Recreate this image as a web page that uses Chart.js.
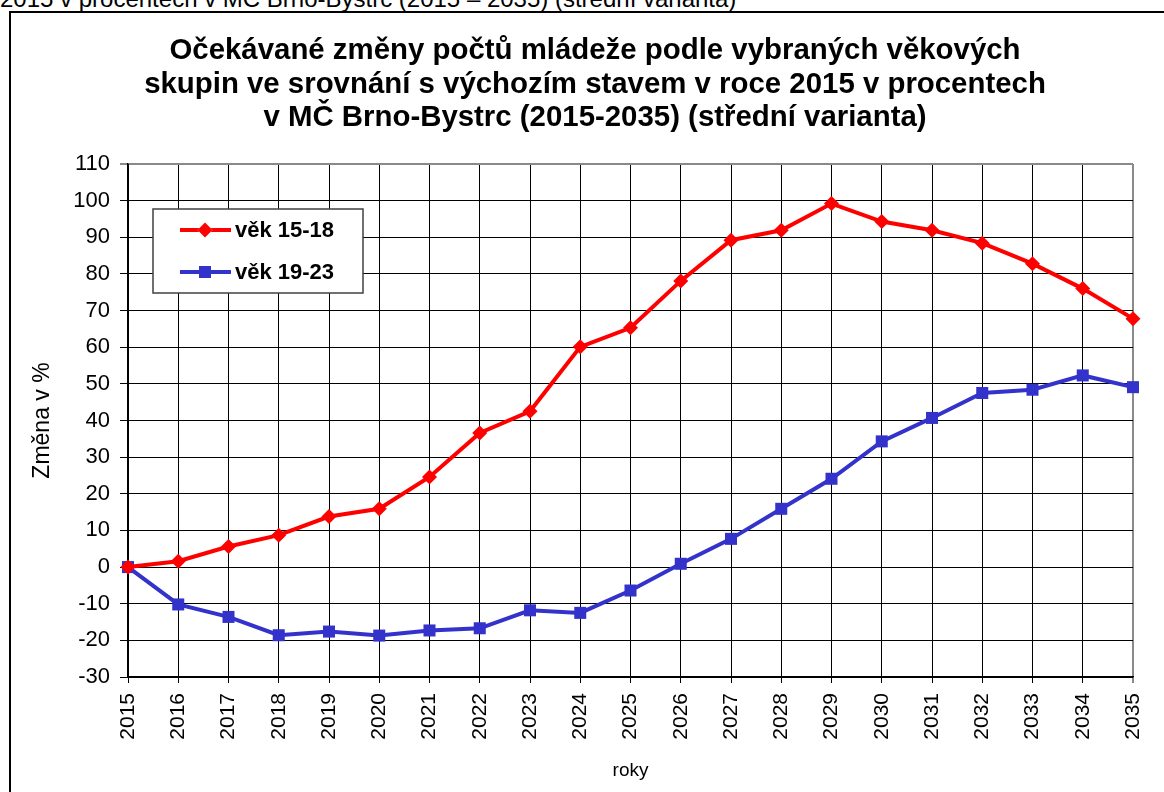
<!DOCTYPE html>
<html>
<head>
<meta charset="utf-8">
<script src="https://cdn.jsdelivr.net/npm/chart.js@4.4.1/dist/chart.umd.min.js"></script>
<style>
  body { margin: 0; background: #fff; font-family: "Liberation Sans", Arial, sans-serif; }
  #topline { position: absolute; left: 0; top: -15px; font-size: 24px; line-height: 27px; color: #000; white-space: nowrap; }
  #frame { position: absolute; left: 9px; top: 11px; width: 1300px; height: 900px; border: 2px solid #000; }
  #title { position: absolute; left: 95px; width: 1000px; top: 32px; text-align: center;
           font-weight: bold; font-size: 29.4px; line-height: 33.5px; color: #000; white-space: nowrap; }
  #wrap { position: absolute; left: 0; top: 0; width: 1164px; height: 792px; }
</style>
</head>
<body>
<div id="topline">2015 v procentech v MČ Brno-Bystrc (2015 – 2035) (střední varianta)</div>
<div id="frame"></div>
<div id="wrap"><canvas id="myChart" width="1164" height="792"></canvas></div>
<div id="title"></div>
<script>
// data
const years = ['2015','2016','2017','2018','2019','2020','2021','2022','2023','2024','2025',
               '2026','2027','2028','2029','2030','2031','2032','2033','2034','2035'];
const vek1518 = [0, 1.6, 5.6, 8.7, 13.8, 15.9, 24.6, 36.6, 42.5, 60.1, 65.3,
                 78.1, 89.2, 91.9, 99.2, 94.3, 91.9, 88.4, 82.8, 76.0, 67.8];
const vek1923 = [0, -10.2, -13.6, -18.6, -17.6, -18.7, -17.3, -16.7, -11.8, -12.5, -6.4,
                 0.9, 7.7, 15.9, 24.1, 34.3, 40.7, 47.5, 48.4, 52.3, 49.1];
const seriesNames = ['věk 15-18', 'věk 19-23'];
const titleLines = [
  'Očekávané změny počtů mládeže podle vybraných věkových',
  'skupin ve srovnání s výchozím stavem v roce 2015 v procentech',
  'v MČ Brno-Bystrc (2015-2035) (střední varianta)'
];
const yMin = -30, yMax = 110, yStep = 10;

const FONT = '"Liberation Sans", Arial, sans-serif';

// title as html text, centred over the frame
const titleDiv = document.getElementById('title');
titleLines.forEach(t => {
  const d = document.createElement('div');
  d.textContent = t;
  titleDiv.appendChild(d);
});

// legend box drawn inside the plot, top left
const boxLegend = {
  id: 'boxLegend',
  afterDatasetsDraw(chart) {
    const ctx = chart.ctx;
    const a = chart.chartArea;
    const x0 = a.left + 25, y0 = a.top + 45, w = 210, h = 84;
    ctx.save();
    ctx.fillStyle = '#fff';
    ctx.fillRect(x0, y0, w, h);
    ctx.strokeStyle = '#404040';
    ctx.lineWidth = 1.5;
    ctx.strokeRect(x0, y0, w, h);
    chart.data.datasets.forEach((ds, i) => {
      const cy = y0 + 21 + i * 42;
      ctx.strokeStyle = ds.borderColor;
      ctx.lineWidth = 4;
      ctx.beginPath();
      ctx.moveTo(x0 + 27, cy);
      ctx.lineTo(x0 + 78, cy);
      ctx.stroke();
      Chart.helpers.drawPoint(ctx, {pointStyle: ds.pointStyle, radius: ds.pointRadius, borderWidth: 0}, x0 + 52, cy);
      ctx.fillStyle = ds.borderColor;
      ctx.fill();
      ctx.fillStyle = '#000';
      ctx.font = 'bold 22px ' + FONT;
      ctx.textBaseline = 'middle';
      ctx.fillText(ds.label, x0 + 82, cy + 1);
    });
    ctx.restore();
  }
};

const ctx = document.getElementById('myChart');

new Chart(ctx, {
  type: 'line',
  data: {
    labels: years,
    datasets: [{
      label: seriesNames[0],
      data: vek1518,
      borderColor: '#FF0000',
      backgroundColor: '#FF0000',
      borderWidth: 4,
      pointStyle: 'rectRot',
      pointRadius: 7.5,
      pointBorderWidth: 0,
      clip: false,
      tension: 0
    }, {
      label: seriesNames[1],
      data: vek1923,
      borderColor: '#3333CC',
      backgroundColor: '#3333CC',
      borderWidth: 4,
      pointStyle: 'rect',
      pointRadius: 8.5,
      pointBorderWidth: 0,
      clip: false,
      tension: 0
    }]
  },
  options: {
    responsive: false,
    animation: false,
    devicePixelRatio: 1,
    layout: { padding: { left: 0, right: 31, top: 164, bottom: 0 } },
    plugins: {
      legend: { display: false },
      tooltip: { enabled: false },
      title: { display: false }
    },
    scales: {
      x: {
        grid: {
          color: c => (c.index === years.length - 1 ? '#8a8a8a' : '#000'),
          lineWidth: c => (c.index === years.length - 1 ? 2 : 1),
          tickLength: 6
        },
        border: { color: '#000', width: 1.5 },
        ticks: {
          color: '#000',
          font: { family: FONT, size: 21 },
          minRotation: 90,
          maxRotation: 90,
          padding: 10,
          autoSkip: false
        },
        title: {
          display: true,
          text: 'roky',
          color: '#000',
          font: { family: FONT, size: 19 },
          padding: { top: 0, bottom: 10 }
        },
        afterFit(scale) {
          scale.height = 115;
          scale.paddingRight = 0;
        }
      },
      y: {
        min: yMin,
        max: yMax,
        grid: {
          color: c => (c.tick && c.tick.value === yMax ? '#8a8a8a' : '#000'),
          lineWidth: c => (c.tick && c.tick.value === yMax ? 2 : 1),
          tickLength: 8
        },
        border: { color: '#000', width: 1.5 },
        ticks: {
          stepSize: yStep,
          color: '#000',
          font: { family: FONT, size: 22 },
          padding: 10
        },
        title: {
          display: true,
          text: 'Změna v %',
          color: '#000',
          font: { family: FONT, size: 23 },
          padding: { top: 29, bottom: 0 }
        },
        afterFit(scale) { scale.width = 128; }
      }
    }
  },
  plugins: [boxLegend]
});
</script>
</body>
</html>
